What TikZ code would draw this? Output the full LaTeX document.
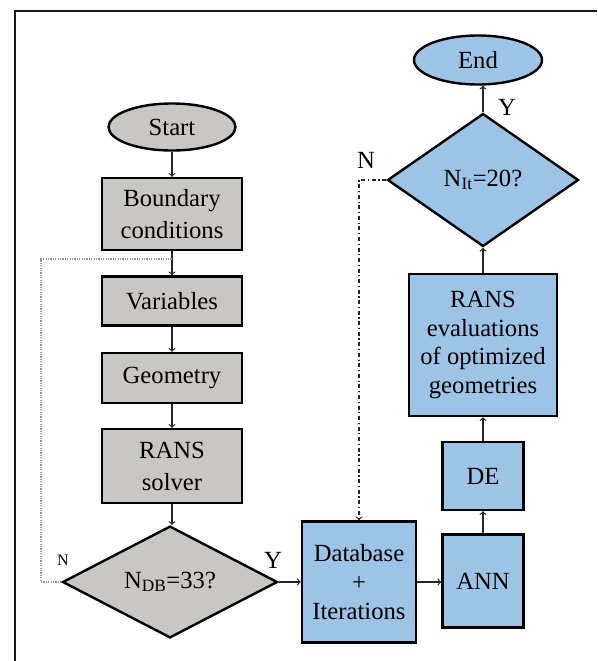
\documentclass[tikz,border=0pt]{standalone}
\usepackage{fontspec}
\setmainfont{Liberation Serif}
\usepackage{tikz}
\usetikzlibrary{shapes.geometric}

\definecolor{boxgray}{RGB}{201,199,195}
\definecolor{boxblue}{RGB}{157,195,230}
\definecolor{loopgray}{RGB}{150,150,150}

\begin{document}
\begin{tikzpicture}[x=0.75pt,y=0.75pt,yscale=-1,xscale=1,
    graybox/.style={draw,line width=1.8pt,fill=boxgray,align=center,inner sep=0pt,font=\fontsize{18.5}{24}\selectfont},
    bluebox/.style={draw,line width=1.8pt,fill=boxblue,align=center,inner sep=0pt,font=\fontsize{18.5}{21.5}\selectfont},
    decision/.style={diamond,draw,line width=1.8pt,inner sep=0pt,font=\fontsize{18.5}{21.5}\selectfont},
    terminal/.style={ellipse,draw,line width=1.8pt,inner sep=0pt,font=\fontsize{18.5}{21.5}\selectfont},
    flow/.style={->,line width=0.9pt,black!85},
    lbl/.style={inner sep=0pt,font=\fontsize{18.5}{21.5}\selectfont}]
    \useasboundingbox (0,0) rectangle (597,661);
    %frame
    \draw[line width=1.5pt,black!90] (15,661) -- (15,11) -- (597,11);

    %Shape: left column (gray)
    \node (start) [terminal,fill=boxgray,minimum width=95.25pt,minimum height=35.25pt] at (172,127) {Start};
    \node (bound) [graybox,minimum width=105pt,minimum height=54pt] at (172,214) {Boundary\\conditions};
    \node (vars) [graybox,minimum width=105pt,minimum height=36.75pt] at (172,301) {Variables};
    \node (geom) [graybox,minimum width=105pt,minimum height=37.5pt] at (172,378) {Geometry};
    \node (rans) [graybox,minimum width=105pt,minimum height=55.5pt] at (172,466) {RANS\\solver};
    \node (ndb) [decision,fill=boxgray,minimum width=161.25pt,minimum height=78pt] at (170,582) {N\textsubscript{DB}=33?};

    %Shape: right part (blue)
    \node (dbase) [bluebox,minimum width=85.5pt,minimum height=90.75pt] at (359,582) {Database\\+\\Iterations};
    \node (ann) [bluebox,minimum width=60.75pt,minimum height=69.75pt] at (483,581) {ANN};
    \node (de) [bluebox,minimum width=60.75pt,minimum height=51pt] at (483,476) {DE};
    \node (evalr) [bluebox,minimum width=111pt,minimum height=106.5pt] at (483,345) {RANS\\evaluations\\of optimized\\geometries};
    \node (nit) [decision,fill=boxblue,minimum width=143.25pt,minimum height=99.75pt] at (483,180) {N\textsubscript{It}=20?};
    \node (end) [terminal,fill=boxblue,minimum width=96pt,minimum height=36.75pt] at (478,60) {End};

    %Connectors
    \draw[flow] (start) -- (bound);
    \draw[flow] (bound) -- (vars);
    \draw[flow] (vars) -- (geom);
    \draw[flow] (geom) -- (rans);
    \draw[flow] (rans.south) -- (rans.south |- ndb.north);
    \draw[flow] (ndb.east) -- (dbase.west);
    \draw[flow] (dbase.east) -- (ann.west |- dbase.east);
    \draw[flow] (ann) -- (de);
    \draw[flow] (de) -- (evalr);
    \draw[flow] (evalr) -- (nit);
    \draw[flow] (nit.north) -- (nit.north |- end.south);

    %loop N (dotted)
    \coordinate (loop) at (41,259);
    \draw[loopgray,line width=0.8pt,densely dotted] (ndb.west) -| (loop) -- (bound.south |- loop);
    %loop N (dash dot)
    \draw[flow,dash dot] (nit.west) -| (dbase.north);

    % Text Node
    \node (ndbno) [inner sep=0pt,font=\fontsize{12}{14}\selectfont] at (63,560) {N};
    \node (ndbyes) [lbl] at (273,560) {Y};
    \node (nitno) [lbl] at (366,160) {N};
    \node (nityes) [lbl] at (507,107) {Y};
\end{tikzpicture}
\end{document}
